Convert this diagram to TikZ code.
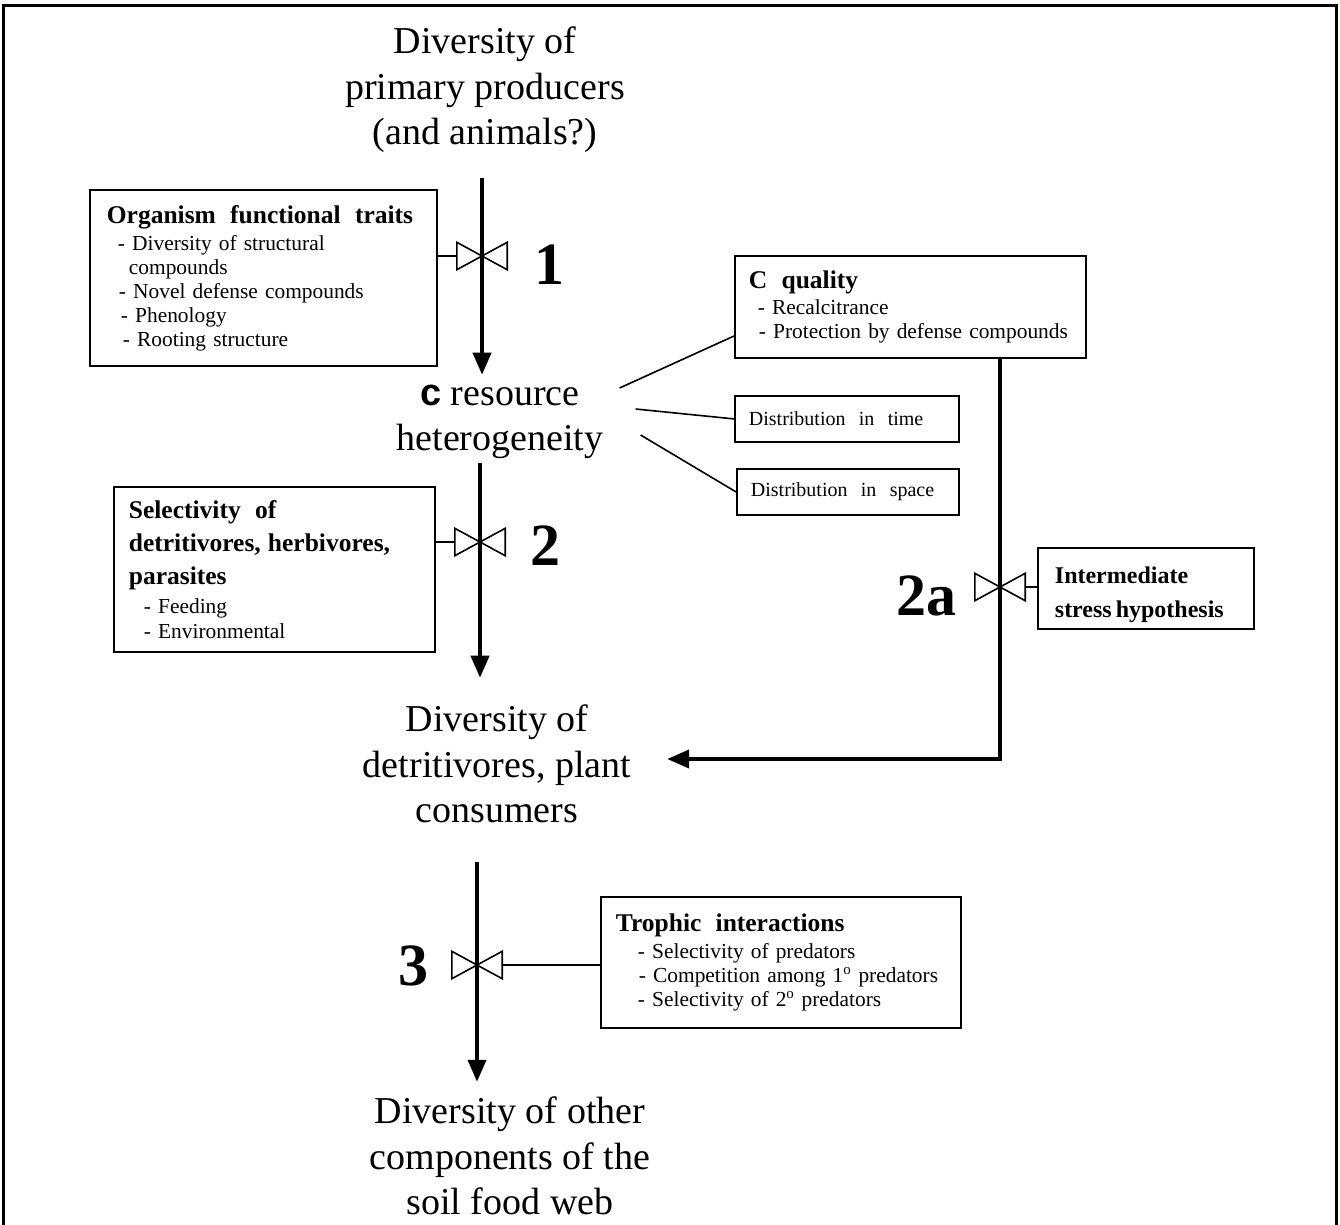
\documentclass[tikz,border=0pt]{standalone}
\usepackage{fontspec}
\setmainfont{Liberation Serif}
\newfontfamily\arialfont{Liberation Sans}
\usetikzlibrary{calc}
\usetikzlibrary{arrows.meta}
\newcommand{\head}{\fontsize{25.5}{30}\selectfont\bfseries}
\newcommand{\valve}[1]{\draw[line width=1.6pt] (#1.north west) -- (#1.south east) -- (#1.north east) -- (#1.south west) -- cycle;}
\tikzset{
  big/.style={font=\fontsize{38}{45.5}\selectfont, align=center, inner sep=0pt},
  panel/.style={draw, line width=1.8pt, align=left, anchor=north west, inner xsep=0pt,
    font=\fontsize{21.4}{24}\selectfont},
  flow/.style={line width=4pt, -{Triangle[length=22pt,width=18pt]}},
  link/.style={line width=1.6pt},
  valvebox/.style={minimum width=50pt, minimum height=27pt, inner sep=0pt},
  tag/.style={font=\fontsize{60}{60}\selectfont\bfseries, inner sep=0pt},
}

\begin{document}
\begin{tikzpicture}[x=1pt,y=-1pt]
    \useasboundingbox (0,0) rectangle (1340,1224);
    % frame
    \draw[line width=3pt] (3,1240) -- (3,5) -- (1336,5) -- (1336,1240);

    % main column
    \node[big] (prod) at (485,90) {Diversity of\\primary producers\\(and animals?)};
    \node[big] (res) at (500,422) {{\arialfont\bfseries c} resource\\heterogeneity};
    \node[big] (det) at (497,764) {Diversity of\\detritivores, plant\\consumers};
    \node[big] (web) at (510,1156) {Diversity of other\\components of the\\soil food web};

    % valves
    \node[valvebox] (v1) at (482,256) {};
    \node[valvebox] (v2) at (480,542) {};
    \node[valvebox] (v2a) at (1000,587) {};
    \node[valvebox] (v3) at (477,965) {};

    % numbers
    \node[tag] (n1) at (549,265) {1};
    \node[tag] (n2) at (545,546) {2};
    \node[tag] (n2a) at (926,596) {2a};
    \node[tag] (n3) at (413,966) {3};

    % boxes
    \node[panel, text width=347pt, minimum height=176pt] (traits) at (89,189) {%
      \hspace*{17pt}{\head Organism\ \ functional\ \ traits}\\[3pt]
      \hspace*{28pt}- Diversity of structural\\
      \hspace*{39pt}compounds\\
      \hspace*{29pt}- Novel defense compounds\\
      \hspace*{31pt}- Phenology\\
      \hspace*{33pt}- Rooting structure};
    \node[panel, text width=321pt, minimum height=165pt] (select) at (113,486) {%
      \hspace*{15pt}{\head Selectivity\ \ of}\\[9pt]
      \hspace*{15pt}{\head detritivores, herbivores,}\\[9pt]
      \hspace*{15pt}{\head parasites}\\[5pt]
      \hspace*{30pt}- Feeding\\[1pt]
      \hspace*{30pt}- Environmental};
    \node[panel, text width=351pt, minimum height=102pt] (qual) at (734,255) {%
      \hspace*{14pt}{\head C\ \ quality}\\[2pt]
      \hspace*{23pt}- Recalcitrance\\
      \hspace*{24pt}- Protection by defense compounds};
    \node[panel, text width=224pt, minimum height=46pt, font=\fontsize{20}{24}\selectfont] (time) at (734,395) {%
      \hspace*{14pt}Distribution\ \ in\ \ time};
    \node[panel, text width=222pt, minimum height=46pt, font=\fontsize{20}{24}\selectfont] (space) at (736,468) {%
      \hspace*{14pt}Distribution\ \ in\ \ space};
    \node[panel, text width=216pt, minimum height=81pt] (stress) at (1037,547) {%
      \rule{0pt}{30pt}\hspace*{17pt}{\fontsize{24}{30}\selectfont\bfseries Intermediate}\\[10pt]
      \hspace*{17pt}{\fontsize{24}{30}\selectfont\bfseries stress\,hypothesis}};
    \node[panel, text width=360pt, minimum height=131pt] (troph) at (600,896) {%
      \hspace*{15pt}{\head Trophic\ \ interactions}\\[3pt]
      \hspace*{37pt}- Selectivity of predators\\
      \hspace*{38pt}- Competition among 1\textsuperscript{o} predators\\
      \hspace*{37pt}- Selectivity of 2\textsuperscript{o} predators};

    % arrows
    \draw[flow] ([yshift=-25pt]prod.south -| v1) -- ([yshift=10pt]res.north -| v1);
    \draw[flow] ([yshift=-4pt]res.south -| v2) -- ([yshift=27pt]det.north -| v2);
    \draw[flow] ([yshift=-39pt]det.south -| v3) -- ([yshift=15pt]web.north -| v3);
    \draw[flow] (v2a |- qual.south) -- (v2a |- 0,759) -- ([shift={(36,-5)}]det.east);

    % valves drawn over the arrows
    \valve{v1}
    \valve{v2}
    \valve{v2a}
    \valve{v3}

    % side links
    \draw[link] (traits.east |- v1) -- (v1.west);
    \draw[link] (select.east |- v2) -- (v2.west);
    \draw[link] (stress.west |- v2a) -- (v2a.east);
    \draw[link] (troph.west |- v3) -- (v3.east);
    \draw[link] ([shift={(16,-34)}]res.east) -- (qual.west |- 0,336);
    \draw[link] ([shift={(32,-13)}]res.east) -- (time.west);
    \draw[link] ([shift={(37,13)}]res.east) -- (space.west);
\end{tikzpicture}
\end{document}
